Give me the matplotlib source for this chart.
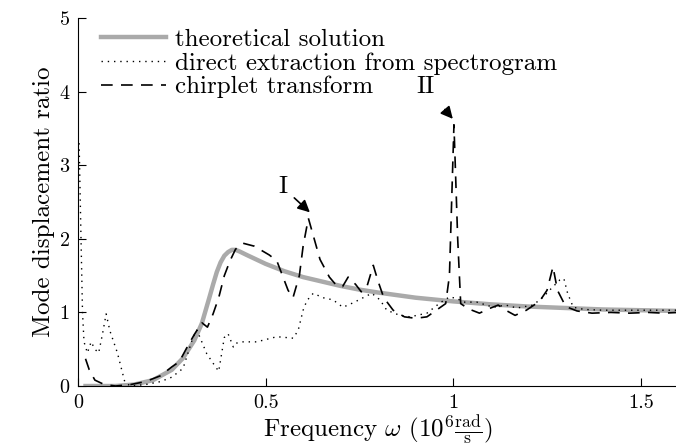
import matplotlib
matplotlib.use("Agg")
import matplotlib.pyplot as plt

plt.rcParams['font.family'] = 'serif'
plt.rcParams['font.serif'] = ['cmr10', 'DejaVu Serif']
plt.rcParams['mathtext.fontset'] = 'cm'
plt.rcParams['axes.unicode_minus'] = False

# theoretical solution
theo_x = [0.02, 0.10, 0.15, 0.20, 0.25, 0.28, 0.31, 0.33, 0.35, 0.36, 0.37, 0.38, 0.39, 0.40,
          0.41, 0.42, 0.43, 0.45, 0.50, 0.55, 0.60, 0.65, 0.70, 0.75, 0.80, 0.90, 1.00, 1.10,
          1.20, 1.30, 1.40, 1.50, 1.60]
theo_y = [0.0, 0.0, 0.02, 0.08, 0.22, 0.38, 0.62, 0.85, 1.20, 1.38, 1.55, 1.68, 1.77, 1.82,
          1.85, 1.85, 1.83, 1.78, 1.66, 1.56, 1.48, 1.42, 1.36, 1.31, 1.27, 1.20, 1.15, 1.11,
          1.08, 1.06, 1.04, 1.03, 1.02]

# direct extraction from spectrogram
spec_x = [0.003, 0.008, 0.012, 0.016, 0.025, 0.035, 0.045, 0.055, 0.065, 0.075, 0.085, 0.095,
          0.105, 0.115, 0.125, 0.14, 0.18, 0.22, 0.25, 0.28, 0.307, 0.317, 0.33, 0.343, 0.36,
          0.375, 0.39, 0.40, 0.414, 0.42, 0.437, 0.476, 0.53, 0.574, 0.587, 0.60, 0.61, 0.627,
          0.653, 0.68, 0.706, 0.733, 0.76, 0.783, 0.805, 0.823, 0.858, 0.885, 0.93, 0.965, 0.99,
          1.01, 1.027, 1.063, 1.107, 1.14, 1.17, 1.213, 1.24, 1.266, 1.284, 1.295, 1.305, 1.32,
          1.35, 1.40, 1.49, 1.60]
spec_y = [3.30, 2.00, 1.00, 0.60, 0.45, 0.60, 0.50, 0.45, 0.70, 0.98, 0.75, 0.60,
          0.45, 0.25, 0.05, 0.00, 0.02, 0.06, 0.12, 0.24, 0.67, 0.76, 0.60, 0.44, 0.31,
          0.20, 0.66, 0.71, 0.53, 0.58, 0.60, 0.60, 0.67, 0.65, 0.76, 1.03, 1.16, 1.26,
          1.20, 1.17, 1.07, 1.13, 1.20, 1.26, 1.17, 1.03, 0.96, 0.94, 0.99, 1.13, 1.21,
          1.19, 1.14, 1.14, 1.07, 1.10, 1.06, 1.10, 1.21, 1.35, 1.44, 1.46, 1.26, 1.07,
          1.04, 1.03, 1.03, 1.03]

# chirplet transform
chirp_x = [0.02, 0.03, 0.045, 0.07, 0.10, 0.14, 0.18, 0.22, 0.25, 0.27, 0.29, 0.31, 0.33, 0.345,
           0.36, 0.375, 0.39, 0.405, 0.42, 0.44, 0.47, 0.49, 0.51, 0.53, 0.545, 0.56, 0.573,
           0.59, 0.60, 0.614, 0.645, 0.67, 0.69, 0.705, 0.72, 0.74, 0.755, 0.77, 0.787, 0.80,
           0.815, 0.84, 0.87, 0.90, 0.93, 0.955, 0.98, 0.99, 1.002, 1.012, 1.02, 1.04, 1.07,
           1.095, 1.12, 1.14, 1.165, 1.195, 1.23, 1.25, 1.266, 1.278, 1.30, 1.33, 1.37, 1.42,
           1.47, 1.52, 1.56, 1.60]
chirp_y = [0.37, 0.22, 0.08, 0.02, 0.00, 0.02, 0.06, 0.14, 0.26, 0.33, 0.52, 0.70, 0.86, 0.80,
           0.98, 1.20, 1.50, 1.70, 1.86, 1.94, 1.90, 1.84, 1.78, 1.70, 1.50, 1.30, 1.20,
           1.50, 1.90, 2.28, 1.72, 1.48, 1.36, 1.35, 1.48, 1.38, 1.28, 1.35, 1.64, 1.42,
           1.20, 1.03, 0.94, 0.92, 0.94, 1.03, 1.12, 1.50, 3.55, 2.00, 1.12, 1.05, 0.99,
           1.05, 1.10, 1.03, 0.96, 1.03, 1.15, 1.30, 1.62, 1.30, 1.08, 1.02, 0.99, 1.00,
           0.99, 1.00, 0.99, 1.00]

fig = plt.figure(figsize=(6.76, 4.46), dpi=100)
ax = fig.add_axes([0.1154, 0.1345, 0.888, 0.825])

ax.plot(theo_x, theo_y, color='#aaaaaa', lw=3.2, label='theoretical solution')
ax.plot(spec_x, spec_y, color='black', lw=1.0, linestyle=(0, (1, 3.5)),
        label='direct extraction from spectrogram')
ax.plot(chirp_x, chirp_y, color='black', lw=1.2, linestyle=(0, (7, 5)),
        label='chirplet transform')

ax.annotate('I', xy=(0.618, 2.36), xytext=(0.546, 2.70), fontsize=18, ha='center', va='center',
            arrowprops=dict(arrowstyle='-|>', color='black', lw=1.2, shrinkA=4, shrinkB=0))
ax.annotate('II', xy=(0.999, 3.63), xytext=(0.927, 4.06), fontsize=18, ha='center', va='center',
            arrowprops=dict(arrowstyle='-|>', color='black', lw=1.2, shrinkA=8, shrinkB=0))

ax.set_xlim(0, 1.6)
ax.set_ylim(0, 5)
ax.set_xticks([0, 0.5, 1, 1.5])
ax.set_xticklabels(['0', '0.5', '1', '1.5'])
ax.set_yticks([0, 1, 2, 3, 4, 5])
ax.set_yticklabels(['0', '1', '2', '3', '4', '5'])
ax.tick_params(direction='in', length=6, labelsize=14.5, pad=6)
ax.spines['top'].set_visible(False)
ax.spines['right'].set_visible(False)

ax.set_xlabel(r'Frequency $\omega$ $(10^6\frac{\mathrm{rad}}{\mathrm{s}})$', fontsize=18, labelpad=1)
ax.set_ylabel('Mode displacement ratio', fontsize=18, labelpad=3)

ax.legend(loc='upper left', frameon=False, fontsize=18, handlelength=2.6, handletextpad=0.35,
          labelspacing=0.05, borderpad=0.0, borderaxespad=0.0, bbox_to_anchor=(0.038, 0.972))

fig.savefig('out.png', dpi=100)
